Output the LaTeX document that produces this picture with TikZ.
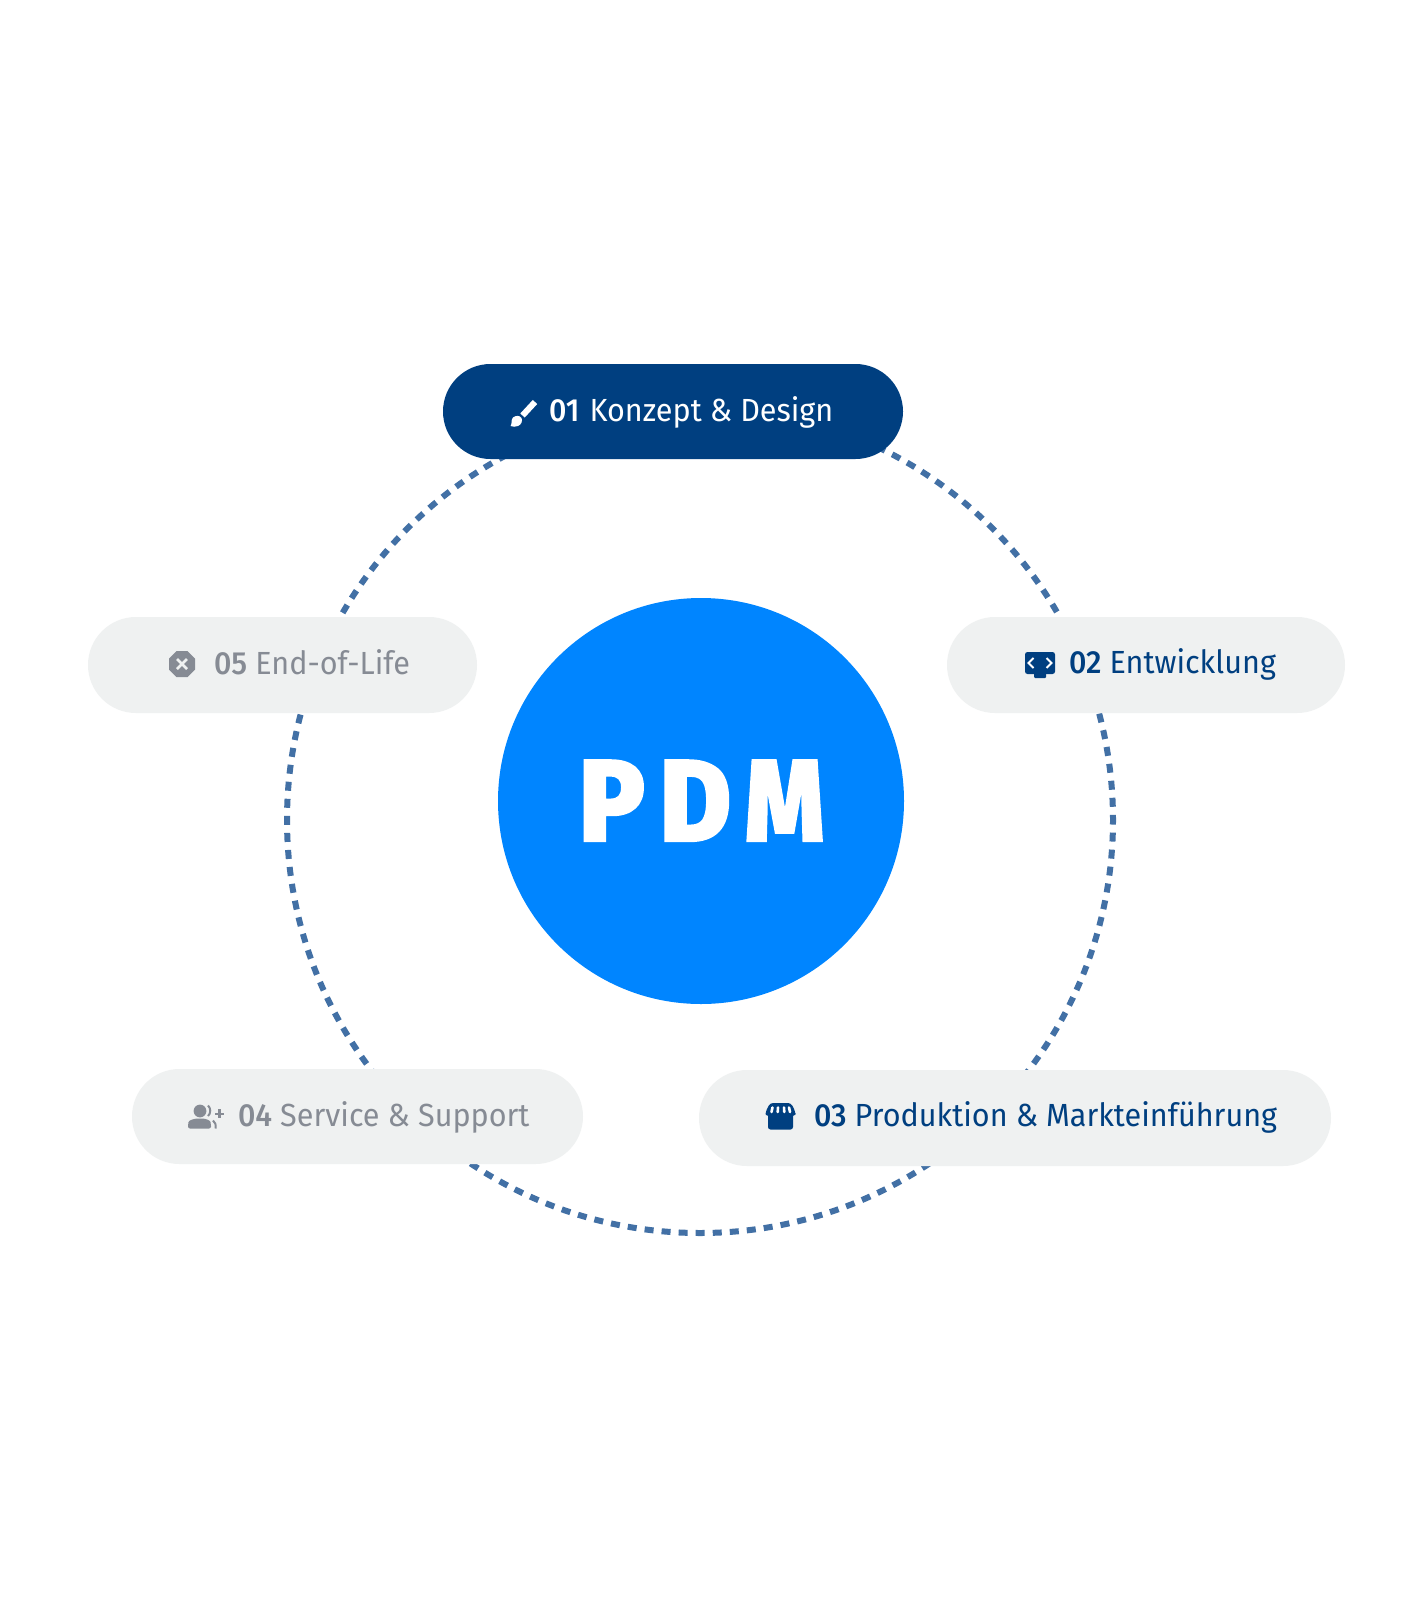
\documentclass[tikz,border=0pt]{standalone}
\usepackage{graphicx}
\usepackage{fontspec}
\setmainfont[FakeStretch=0.955,BoldFont={Fira Sans Medium},BoldFeatures={FakeStretch=0.95}]{Fira Sans}
\newfontfamily\pdmfont[FakeStretch=0.94,FakeBold=2]{Fira Sans ExtraBold}
\usetikzlibrary{shapes.misc}
\definecolor{navy}{HTML}{003F80}
\definecolor{bright}{HTML}{0085FF}
\definecolor{pillgray}{HTML}{EFF1F1}
\definecolor{txtgray}{HTML}{868B94}
\definecolor{ringblue}{HTML}{4270A5}
\tikzset{
  x=1pt,y=-1pt,
  pill/.style={rounded rectangle,draw=none,inner sep=0pt,outer sep=0pt},
  lbl/.style={anchor=base west,inner sep=0pt,outer sep=0pt,font=\fontsize{32}{38}\selectfont},
  ring/.style={draw=ringblue,line width=6pt,dash pattern=on 9pt off 8.07pt,dash phase=4.5pt}
}
\begin{document}
\begin{tikzpicture}
\useasboundingbox (0,0) rectangle (1420,1600);
\fill[white] (0,0) rectangle (1420,1600);
% ring
\coordinate (c) at (700,820);
\draw[ring] (c) circle[radius=413];
% centre
\node[circle,fill=bright,minimum size=406pt,inner sep=0pt] (pdm) at (701,801) {};
\node[anchor=base,inner sep=0pt,text=white,font=\pdmfont\fontsize{116}{120}\selectfont] (pdmt) at (701.5,841) {P\kern15pt D\kern14pt\scalebox{0.92}[1]{M}};
% pills
\node[pill,fill=navy,minimum width=460pt,minimum height=95pt] (p1) at (673,411.5) {};
\node[pill,fill=pillgray,minimum width=389pt,minimum height=96pt] (p5) at (282.5,665) {};
\node[pill,fill=pillgray,minimum width=398pt,minimum height=96pt] (p2) at (1146,665) {};
\node[pill,fill=pillgray,minimum width=451pt,minimum height=95pt] (p4) at (357.5,1116.5) {};
\node[pill,fill=pillgray,minimum width=632pt,minimum height=96pt] (p3) at (1015,1118) {};
% labels
\node[lbl,text=white] (t1) at (549,421) {\textbf{01}\kern2pt{} Konzept \& Design};
\node[lbl,text=txtgray] (t5) at (214,674) {\textbf{05} End-of-Life};
\node[lbl,text=navy] (t2) at (1069,673) {\textbf{02} Entwicklung};
\node[lbl,text=txtgray] (t4) at (238,1126) {\textbf{04} Service \& Support};
\node[lbl,text=navy] (t3) at (814,1126) {\textbf{03} Produktion \& Markteinführung};
% icon 01 brush
\draw[white,line width=6pt] (522.5,415.5) -- (535,402);
\fill[white] (510.5,426) .. controls (512.5,424) and (510.5,420) .. (513,417.5) .. controls (516,415) and (520,415.5) .. (521.5,418) .. controls (523,421) and (521,425) .. (518,426) .. controls (515.5,427) and (512.5,427) .. (510.5,426) -- cycle;
% icon 05 stop
\fill[txtgray] (176.5,651) -- (187.5,651) -- (195,658.5) -- (195,669.5) -- (187.5,677) -- (176.5,677) -- (169,669.5) -- (169,658.5) -- cycle;
\draw[pillgray,line width=2.6pt] (177,659) -- (187,669) (187,659) -- (177,669);
% icon 02 code
\fill[navy,rounded corners=2.5pt] (1025,652) rectangle (1055,674);
\fill[navy,rounded corners=1pt] (1034,670) rectangle (1046,678);
\draw[white,line width=2pt] (1033.5,658) -- (1028.5,663) -- (1033.5,668) (1046.5,658) -- (1051.5,663) -- (1046.5,668);
% icon 04 user
\fill[txtgray] (200,1111) circle[radius=6.4];
\fill[txtgray,rounded corners=2pt] (188,1128.5) -- (188,1124) .. controls (189,1120) and (195,1118.5) .. (200,1118.5) .. controls (205,1118.5) and (210,1120) .. (211,1124) -- (211,1128.5) -- cycle;
\draw[txtgray,line width=2pt] (208,1105.5) .. controls (211,1108) and (211,1113.5) .. (208,1116);
\draw[txtgray,line width=2pt] (213,1120.5) .. controls (215.5,1122) and (216,1125) .. (215.5,1128.5);
\draw[txtgray,line width=2.4pt] (215,1113.7) -- (224,1113.7) (219.5,1109.2) -- (219.5,1118.2);
% icon 03 store
\fill[navy,rounded corners=2.5pt] (768,1112) rectangle (793,1129.5);
\fill[navy,rounded corners=3pt] (770,1103) -- (791,1103) -- (795.5,1112) -- (795.5,1116) -- (765.5,1116) -- (765.5,1112) -- cycle;
\draw[white,line width=2.6pt,line cap=round] (772.5,1107.5) -- (771.5,1112) (778,1107.5) -- (777.7,1112) (784,1107.5) -- (784.3,1112) (789,1107.5) -- (790,1112);
\end{tikzpicture}
\end{document}
